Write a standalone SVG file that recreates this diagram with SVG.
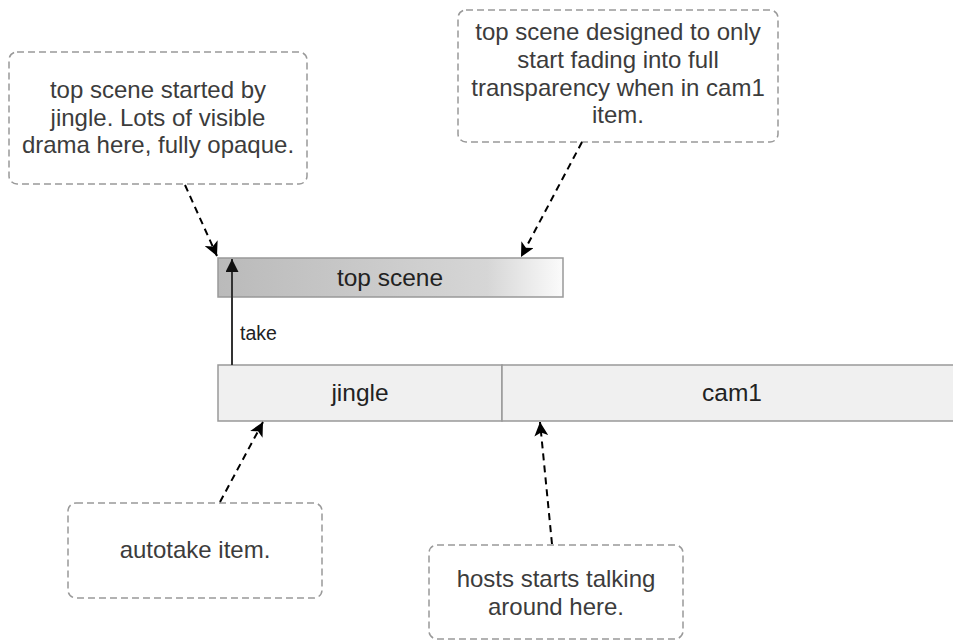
<svg xmlns="http://www.w3.org/2000/svg" width="953" height="641" viewBox="0 0 953 641">
<style>
.note{fill:#ffffff;stroke:#999999;stroke-width:1.5;stroke-dasharray:7 4}
.nt{font-family:"Liberation Sans",Arial,sans-serif;font-size:24px;fill:#3c3c3c;text-anchor:middle}
.bt{font-family:"Liberation Sans",Arial,sans-serif;font-size:24.5px;fill:#222222;text-anchor:middle}
.bar{fill:#f0f0f0;stroke:#999999;stroke-width:1.5}
.dash{fill:none;stroke:#000000;stroke-width:2;stroke-dasharray:7 5}
.solid{fill:none;stroke:#333333;stroke-width:2}
</style>
<defs>
<linearGradient id="fade" x1="0" y1="0" x2="1" y2="0">
<stop offset="0" stop-color="#bababa"/>
<stop offset="0.78" stop-color="#d6d6d6"/>
<stop offset="1" stop-color="#fbfbfb"/>
</linearGradient>
<marker id="ah" viewBox="0 0 10 10" refX="10" refY="5" markerWidth="7" markerHeight="7" markerUnits="strokeWidth" orient="auto">
<path d="M0,0 L10,5 L0,10 L2.5,5 Z" fill="#000000"/>
</marker>
<marker id="ah2" viewBox="0 0 10 10" refX="10" refY="5" markerWidth="6.5" markerHeight="6.5" markerUnits="strokeWidth" orient="auto">
<path d="M0,0 L10,5 L0,10 Z" fill="#111111"/>
</marker>
</defs>

<g id="note-top-left">
<rect class="note" x="9" y="52" width="298" height="132" rx="8"/>
<text class="nt" x="158" y="98">top scene started by</text>
<text class="nt" x="158" y="125.5">jingle. Lots of visible</text>
<text class="nt" x="158" y="153">drama here, fully opaque.</text>
</g>

<g id="note-top-right">
<rect class="note" x="458" y="10" width="320" height="132" rx="8"/>
<text class="nt" x="618" y="39.5">top scene designed to only</text>
<text class="nt" x="618" y="67.5">start fading into full</text>
<text class="nt" x="618" y="95.5">transparency when in cam1</text>
<text class="nt" x="618" y="123">item.</text>
</g>

<g id="top-scene">
<rect x="218" y="258" width="345" height="39" fill="url(#fade)" stroke="#999999" stroke-width="1.5"/>
<text class="bt" x="390" y="286">top scene</text>
</g>

<g id="jingle">
<rect class="bar" x="218" y="365" width="284" height="56"/>
<text class="bt" x="360" y="401">jingle</text>
</g>

<g id="cam1">
<rect class="bar" x="502" y="365" width="460" height="56"/>
<text class="bt" x="732" y="401">cam1</text>
</g>

<g id="note-autotake">
<rect class="note" x="68" y="503" width="254" height="95" rx="8"/>
<text class="nt" x="195" y="558">autotake item.</text>
</g>

<g id="note-hosts">
<rect class="note" x="429" y="545" width="254" height="94" rx="8"/>
<text class="nt" x="556" y="587">hosts starts talking</text>
<text class="nt" x="556" y="615">around here.</text>
</g>

<g id="connectors">
<line class="solid" x1="232" y1="365" x2="232" y2="259" marker-end="url(#ah2)"/>
<text x="240" y="340" font-family="Liberation Sans, Arial, sans-serif" font-size="19.5px" fill="#222222">take</text>
<line class="dash" x1="185" y1="185" x2="217" y2="256" marker-end="url(#ah)"/>
<line class="dash" x1="582" y1="142" x2="521" y2="257" marker-end="url(#ah)"/>
<line class="dash" x1="220" y1="502" x2="263" y2="422" marker-end="url(#ah)"/>
<line class="dash" x1="552" y1="544" x2="540" y2="422" marker-end="url(#ah)"/>
</g>
</svg>
